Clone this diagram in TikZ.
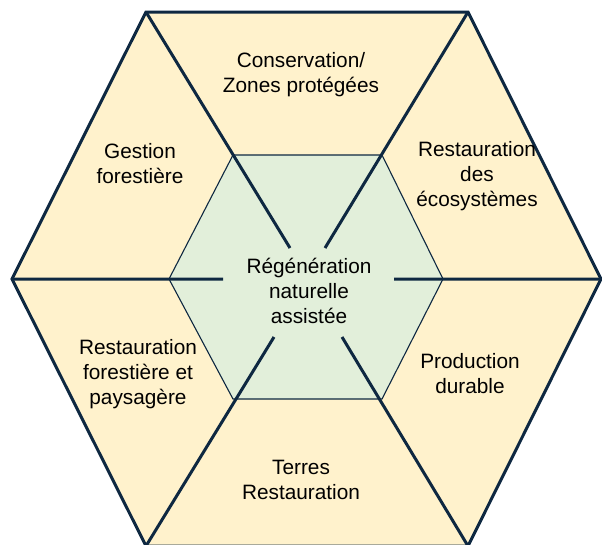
\documentclass[tikz,border=0pt]{standalone}
\usepackage{fontspec}
\setmainfont{Liberation Sans}
\usetikzlibrary{calc}

\definecolor{navy}{HTML}{0E2841}
\definecolor{gold}{HTML}{FFF2CC}
\definecolor{sage}{HTML}{E2EFDA}

\tikzset{
  outerhex/.style={fill=gold,draw=navy,line width=3pt,line join=miter},
  innerhex/.style={fill=sage,draw=navy,line width=1.1pt},
  spoke/.style={draw=navy,line width=3pt},
  label/.style={align=center,inner sep=0pt,font=\fontsize{20.8}{25}\selectfont}
}

\begin{document}
\begin{tikzpicture}[x=1pt,y=-1pt]
  \path[use as bounding box] (0,0) rectangle (602,544);
  \clip (0,0) rectangle (602,544);

  % outer hexagon
  \coordinate (o1) at (146,12);
  \coordinate (o2) at (468,12);
  \coordinate (o3) at (601,279);
  \coordinate (o4) at (468,546);
  \coordinate (o5) at (146,546);
  \coordinate (o6) at (12,279);
  % inner hexagon
  \coordinate (i1) at (233,155);
  \coordinate (i2) at (382,155);
  \coordinate (i3) at (443,279);
  \coordinate (i4) at (382,399);
  \coordinate (i5) at (233,399);
  \coordinate (i6) at (169,279);
  % spoke ends round the centre
  \coordinate (e1) at (290,248);
  \coordinate (e2) at (325,248);
  \coordinate (e3) at (394,279);
  \coordinate (e4) at (342,337);
  \coordinate (e5) at (274,337);
  \coordinate (e6) at (223,279);

  \path[outerhex,draw=none] (o1) -- (o2) -- (o3) -- (o4) -- (o5) -- (o6) -- cycle;
  \path[innerhex] (i1) -- (i2) -- (i3) -- (i4) -- (i5) -- (i6) -- cycle;

  \draw[spoke]
    (o1) -- (e1)
    (o2) -- (e2)
    (o3) -- (e3)
    (o4) -- (e4)
    (o5) -- (e5)
    (o6) -- (e6);

  \draw[outerhex,fill=none] (o1) -- (o2) -- (o3) -- (o4) -- (o5) -- (o6) -- cycle;

  % texts
  \node[label] (ctr) at (309,291) {Régénération\\naturelle\\assistée};
  \node[label] (cons) at (301,75) {Conservation/\\Zones protégées};
  \node[label] (gest) at (140,164) {Gestion\\forestière};
  \node[label] (eco) at (477,176) {Restauration\\des\\écosystèmes};
  \node[label] (prod) at (470,374) {Production\\durable};
  \node[label] (terr) at (301,480) {Terres\\Restauration};
  \node[label] (pays) at (138,374) {Restauration\\forestière et\\paysagère};
\end{tikzpicture}
\end{document}
